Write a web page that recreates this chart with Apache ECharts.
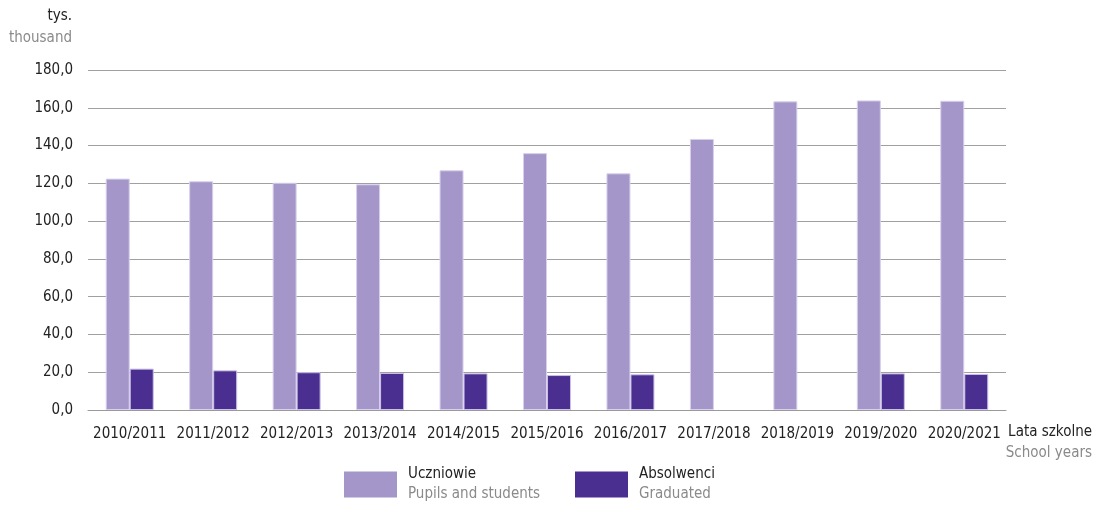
<!DOCTYPE html>
<html><head><meta charset="utf-8">
<script src="https://cdn.jsdelivr.net/npm/echarts@6/dist/echarts.min.js"></script>
<style>html,body{margin:0;padding:0;background:#fff}#c{width:1094px;height:507px}</style>
</head><body><div id="c"></div>
<script>
const categories = ['2010/2011','2011/2012','2012/2013','2013/2014','2014/2015','2015/2016','2016/2017','2017/2018','2018/2019','2019/2020','2020/2021'];
const pupils = [122.5, 121.1, 120.3, 119.5, 126.9, 136.0, 125.3, 143.5, 163.4, 163.9, 163.7];
const graduates = [21.9, 21.0, 20.0, 19.6, 19.4, 18.5, 18.9, null, null, 19.4, 19.1];
const yTicks = [0, 20, 40, 60, 80, 100, 120, 140, 160, 180];

const FONT = '"DejaVu Sans Condensed", "Liberation Sans Narrow", sans-serif';
const chart = echarts.init(document.getElementById('c'));
const legendBase = {
  orient: 'horizontal', itemWidth: 53, itemHeight: 26, icon: 'rect', selectedMode: false, itemGap: 10,
  padding: 0,
  itemStyle: { borderWidth: 0 },
  textStyle: { fontFamily: FONT, padding: [0, 0, 0, 6], rich: {
    a: { fontFamily: FONT, fontSize: 15, color: '#222', lineHeight: 20 },
    b: { fontFamily: FONT, fontSize: 15, color: '#8a8a8a', lineHeight: 20 } } }
};
chart.setOption({
  animation: false,
  textStyle: { fontFamily: FONT },
  grid: { left: 88, right: 88, top: 70, bottom: 97 },
  legend: [
    Object.assign({}, legendBase, { left: 344, top: 467, data: ['Uczniowie'],
      formatter: () => '{a|Uczniowie}\n{b|Pupils and students}' }),
    Object.assign({}, legendBase, { left: 575, top: 467, data: ['Absolwenci'],
      formatter: () => '{a|Absolwenci}\n{b|Graduated}' })
  ],
  xAxis: {
    type: 'category', data: categories,
    axisLine: { lineStyle: { color: '#9a9a9a', width: 1 } },
    axisTick: { show: false },
    axisLabel: { fontFamily: FONT, fontSize: 15, color: '#222', margin: 17, interval: 0 }
  },
  yAxis: {
    type: 'value', min: yTicks[0], max: yTicks[yTicks.length - 1], interval: 20,
    axisLine: { show: false }, axisTick: { show: false },
    axisLabel: { fontFamily: FONT, fontSize: 15, color: '#222', margin: 15,
      formatter: v => v.toFixed(1).replace('.', ',') },
    splitLine: { lineStyle: { color: '#a0a0a0', width: 1 } }
  },
  series: [
    { name: 'Uczniowie', type: 'bar', data: pupils, barWidth: 24, barGap: '0%',
      itemStyle: { color: '#a496c8', borderColor: '#d8d0ec', borderWidth: 1 } },
    { name: 'Absolwenci', type: 'bar', data: graduates, barWidth: 24, barGap: '0%',
      itemStyle: { color: '#4a2f91', borderColor: '#c9c0e6', borderWidth: 1 } }
  ],
  graphic: [
    { type: 'text', x: 72, y: 9, style: { text: 'tys.', fontFamily: FONT, fontSize: 15, fill: '#222', align: 'right' } },
    { type: 'text', x: 72, y: 31, style: { text: 'thousand', fontFamily: FONT, fontSize: 15, fill: '#8a8a8a', align: 'right' } },
    { type: 'text', x: 1092, y: 425, style: { text: 'Lata szkolne', fontFamily: FONT, fontSize: 15, fill: '#222', align: 'right' } },
    { type: 'text', x: 1092, y: 446, style: { text: 'School years', fontFamily: FONT, fontSize: 15, fill: '#8a8a8a', align: 'right' } }
  ]
});
</script></body></html>
